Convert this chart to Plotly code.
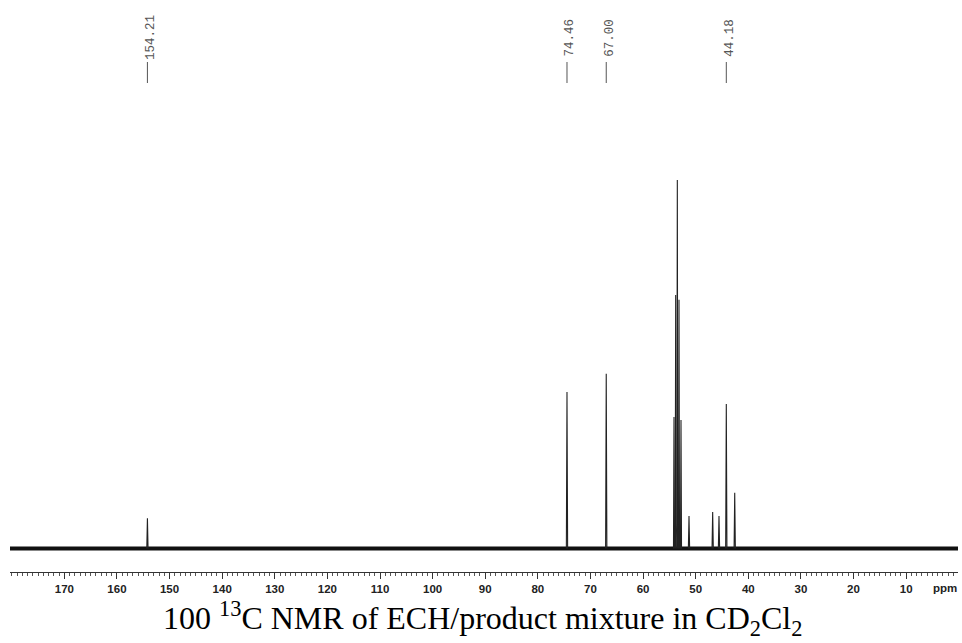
import plotly.graph_objects as go

# ---- data ----
peak_ppm = [154.21, 74.46, 67.00, 54.12, 53.80, 53.49, 53.17, 52.79, 51.27, 46.77, 45.57, 44.18, 42.58]
peak_height = [8.2, 42.5, 47.4, 35.7, 68.8, 100.0, 67.5, 34.9, 8.8, 9.9, 8.8, 39.2, 15.1]
peak_halfwidth = [0.12, 0.12, 0.12, 0.1, 0.1, 0.1, 0.1, 0.1, 0.12, 0.12, 0.12, 0.12, 0.12]

broad_ppm = [53.45]
broad_height = [6.5]
broad_halfwidth = [0.75]

label_ppm = [154.21, 74.46, 67.00, 44.18]
label_text = ["154.21", "74.46", "67.00", "44.18"]

tick_vals = [170, 160, 150, 140, 130, 120, 110, 100, 90, 80, 70, 60, 50, 40, 30, 20, 10]
tick_text = [str(v) for v in tick_vals]

x_range = [180.33, 0.14]
caption = "100 <sup>13</sup>C NMR of ECH/product mixture in CD<sub>2</sub>Cl<sub>2</sub>"

# ---- build spectrum polyline from peak list ----
items = []
for p, h, w in zip(peak_ppm, peak_height, peak_halfwidth):
    items.append((p, h, w))
for p, h, w in zip(broad_ppm, broad_height, broad_halfwidth):
    items.append((p, h, w))

sx, sy = [], []
for p, h, w in items:
    sx += [p + w, p, p - w, None]
    sy += [0, h, 0, None]

W, H = 962, 643
mt, mb, ml, mr = 0, 71, 10, 4
plot_h = H - mt - mb
y0_px = 548.5
scale = 3.685
y_range = [-(plot_h - y0_px) / scale, y0_px / scale]


def py_to_paper(py):
    return 1 - (py - mt) / plot_h


def px_to_paper(px):
    return (px - ml) / (W - ml - mr)


fig = go.Figure()
fig.add_trace(go.Scatter(x=list(x_range), y=[0, 0], mode="lines",
                         line=dict(color="#111", width=4), hoverinfo="skip"))
fig.add_trace(go.Scatter(x=sx, y=sy, mode="lines",
                         line=dict(color="#222", width=1.1), hoverinfo="skip"))

shapes = []
annotations = []
for p, t in zip(label_ppm, label_text):
    shapes.append(dict(type="line", xref="x", yref="paper", x0=p, x1=p,
                       y0=py_to_paper(83), y1=py_to_paper(62),
                       line=dict(color="#555", width=1)))
    annotations.append(dict(x=p, xref="x", y=py_to_paper(37.5), yref="paper",
                            xanchor="center", yanchor="middle",
                            text=t, showarrow=False, textangle=-90, xshift=4,
                            font=dict(family="Liberation Mono", size=12.5, color="#555")))

annotations.append(dict(x=px_to_paper(945), xref="paper", y=py_to_paper(588), yref="paper",
                        xanchor="center", yanchor="middle", text="ppm", showarrow=False,
                        font=dict(family="Liberation Sans", size=11.5, color="#222", weight="bold")))
annotations.append(dict(x=px_to_paper(482), xref="paper", y=py_to_paper(618), yref="paper",
                        xanchor="center", yanchor="middle",
                        text=caption, showarrow=False,
                        font=dict(family="Liberation Serif", size=32, color="black")))

fig.update_layout(
    width=W, height=H,
    margin=dict(l=ml, r=mr, t=mt, b=mb),
    paper_bgcolor="white", plot_bgcolor="white",
    showlegend=False,
    shapes=shapes, annotations=annotations,
    xaxis=dict(range=x_range, showgrid=False, zeroline=False,
               showline=True, linecolor="#333", linewidth=1,
               ticks="outside", ticklen=6, tickcolor="#333", tickwidth=1,
               tickvals=tick_vals, ticktext=tick_text,
               tickfont=dict(family="Liberation Sans", size=11.5, color="#222", weight="bold"),
               minor=dict(dtick=1, ticks="outside", ticklen=3, tickcolor="#555", tickwidth=1,
                          showgrid=False)),
    yaxis=dict(range=y_range, visible=False, showgrid=False, zeroline=False),
)
fig.write_html("out.html")
